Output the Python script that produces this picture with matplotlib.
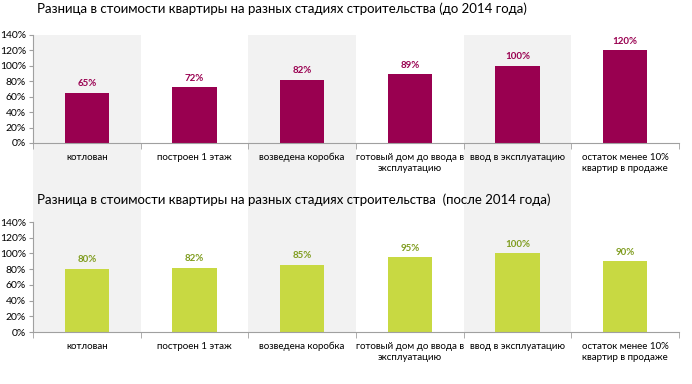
import matplotlib.pyplot as plt
import numpy as np

# === данные ===
stages = ["котлован", "построен 1 этаж", "возведена коробка",
          "готовый дом до ввода в\nэксплуатацию", "ввод в эксплуатацию",
          "остаток менее 10%\nквартир в продаже"]
before_2014 = [65, 72, 82, 89, 100, 120]
after_2014 = [80, 82, 85, 95, 100, 90]
title_before = "Разница в стоимости квартиры на разных стадиях строительства (до 2014 года)"
title_after = "Разница в стоимости квартиры на разных стадиях строительства  (после 2014 года)"
yticks = [0, 20, 40, 60, 80, 100, 120, 140]

plt.rcParams['font.family'] = ['Lato', 'DejaVu Sans']

W, H = 692, 384
fig = plt.figure(figsize=(W / 100, H / 100), dpi=100)

x = np.arange(len(stages))
left, right = 33 / W, 679 / W
top_ax = [left, 1 - 143 / H, right - left, (143 - 35) / H]
bot_ax = [left, 1 - 332 / H, right - left, (332 - 222) / H]

# серые полосы через оба графика
bg = fig.add_axes([left, bot_ax[1], right - left, top_ax[1] + top_ax[3] - bot_ax[1]], zorder=0)
bg.set_xlim(-0.5, len(stages) - 0.5)
bg.axis('off')
for i in range(0, len(stages), 2):
    bg.axvspan(i - 0.5, i + 0.5, color='#f2f2f2', lw=0)


def draw(pos, values, bar_color, label_color):
    ax = fig.add_axes(pos, zorder=1)
    ax.patch.set_alpha(0)
    ax.bar(x, values, width=0.41, color=bar_color, zorder=2)
    for xi, v in zip(x, values):
        ax.text(xi, v + 6, f"{v}%", ha='center', va='bottom', fontsize=7,
                fontweight='bold', color=label_color)
    ax.set_xlim(-0.5, len(stages) - 0.5)
    ax.set_ylim(0, 140)
    ax.set_yticks(yticks)
    ax.set_yticklabels([f"{t}%" for t in yticks], fontsize=7.5)
    ax.set_xticks(x)
    ax.set_xticklabels(stages, fontsize=7, linespacing=1.3, va='top')
    ax.set_xticks(np.arange(-0.5, len(stages)), minor=True)
    ax.tick_params(axis='x', which='major', length=0, pad=7)
    ax.tick_params(axis='x', which='minor', length=4, color='#a0a0a0')
    ax.tick_params(axis='y', length=3, color='#a0a0a0', pad=2)
    for s in ['top', 'right']:
        ax.spines[s].set_visible(False)
    for s in ['left', 'bottom']:
        ax.spines[s].set_color('#a0a0a0')
        ax.spines[s].set_linewidth(0.8)
    return ax


draw(top_ax, before_2014, '#990050', '#990050')
draw(bot_ax, after_2014, '#c8d942', '#7f9c1e')

fig.text(37 / W, 1 - 9 / H, title_before, fontsize=9.5, va='center', ha='left')
fig.text(37 / W, 1 - 200 / H, title_after, fontsize=9.5, va='center', ha='left')

plt.savefig("out.png", dpi=100)
